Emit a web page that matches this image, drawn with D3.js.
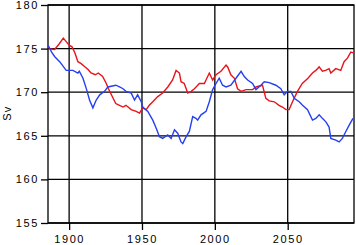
<!DOCTYPE html>
<html>
<head>
<meta charset="utf-8">
<script src="https://cdn.jsdelivr.net/npm/d3@7"></script>
<style>
  body { margin: 0; background: #fff; }
  text { font-family: "Liberation Sans", Arial, sans-serif; }
</style>
</head>
<body>
<div id="chart"></div>
<script>
// values
const redYears = [1886, 1890, 1893, 1896, 1898, 1900, 1902, 1904, 1906, 1908, 1911, 1913, 1915, 1918, 1920, 1923, 1925.5, 1927, 1929, 1932, 1934.6, 1937, 1939, 1942.6, 1946, 1948.3, 1950.5, 1952.9, 1955, 1957.4, 1960.8, 1964.2, 1967.7, 1971, 1973.4, 1975.7, 1976.8, 1979, 1981.4, 1983.7, 1986, 1989.4, 1992.8, 1996.2, 1998.5, 2000.8, 2004.2, 2007.7, 2008.8, 2011, 2013.4, 2015.6, 2018, 2021.4, 2025.9, 2028.2, 2032.7, 2035, 2037.3, 2040.8, 2044, 2046.4, 2048.8, 2051, 2053.3, 2056.7, 2060, 2063.9, 2067, 2069.3, 2071.6, 2073.8, 2076, 2078.4, 2079.6, 2083, 2086.4, 2088.7, 2091, 2093.3, 2095];
const redValues = [175.0, 174.9, 175.5, 176.2, 175.8, 175.4, 175.2, 174.5, 173.5, 173.3, 172.9, 172.6, 172.2, 172.0, 172.2, 171.8, 171.0, 170.4, 169.7, 168.7, 168.5, 168.3, 168.5, 168.0, 167.8, 167.6, 168.2, 168.0, 168.5, 168.9, 169.5, 169.9, 170.6, 171.4, 172.5, 172.2, 171.2, 171.0, 169.9, 170.1, 170.4, 171.0, 171.0, 172.2, 171.4, 172.0, 172.4, 173.1, 172.9, 172.0, 171.6, 170.4, 170.1, 170.3, 170.3, 170.6, 170.8, 169.3, 169.0, 168.9, 168.5, 168.3, 168.0, 168.0, 168.9, 170.1, 171.0, 171.6, 172.2, 172.5, 172.9, 172.4, 172.5, 172.7, 172.2, 172.7, 172.5, 173.5, 173.9, 174.6, 174.5];

const blueYears = [1885.5, 1888, 1890, 1893.5, 1898, 1902.6, 1906, 1907, 1909.5, 1912, 1914, 1916.3, 1918.6, 1921, 1924.3, 1926.6, 1932, 1934.6, 1937, 1939, 1942.6, 1944.9, 1947, 1949.5, 1950.5, 1954, 1957.4, 1959.7, 1962, 1964.2, 1967.7, 1970, 1972.3, 1974.5, 1976.8, 1978, 1980.3, 1982.5, 1984.8, 1987, 1988.2, 1990.5, 1994, 1996.2, 1998.5, 2000.8, 2003, 2005.3, 2007.7, 2011, 2014.5, 2018, 2020.2, 2022.5, 2025.9, 2028.2, 2031.6, 2033.9, 2037.3, 2041.9, 2045.3, 2047.6, 2049.9, 2052.2, 2054.5, 2057.9, 2060.2, 2063.6, 2067, 2069.3, 2071.6, 2073.8, 2076.2, 2078.4, 2079.6, 2083, 2085.3, 2087.5, 2089.9, 2092.1, 2094.8];
const blueValues = [175.4, 174.6, 174.1, 173.5, 172.5, 172.5, 172.2, 172.4, 171.6, 170.3, 169.1, 168.2, 169.1, 169.7, 170.1, 170.6, 170.8, 170.6, 170.4, 170.1, 169.9, 169.1, 169.7, 168.9, 168.3, 167.8, 166.8, 165.9, 164.9, 164.7, 165.1, 164.7, 165.7, 165.3, 164.3, 164.1, 164.9, 165.5, 167.2, 167.0, 166.8, 167.4, 167.8, 168.9, 170.3, 171.0, 171.6, 170.8, 170.6, 170.8, 171.6, 172.4, 171.8, 171.4, 171.0, 170.3, 170.8, 171.2, 171.1, 170.8, 170.4, 169.7, 170.1, 170.1, 169.3, 168.9, 168.5, 168.0, 166.8, 167.0, 167.4, 167.0, 166.6, 166.0, 164.7, 164.5, 164.3, 164.7, 165.5, 166.2, 167.0];

const xTicks = [1900, 1950, 2000, 2050];
const yTicks = [155, 160, 165, 170, 175, 180];

const W = 356, H = 245;
const margin = {left: 48, right: 2, top: 5, bottom: 22};
const width = W - margin.left - margin.right;
const height = H - margin.top - margin.bottom;

const svg = d3.select("#chart").append("svg")
    .attr("width", W).attr("height", H)
    .append("g")
    .attr("transform", `translate(${margin.left},${margin.top})`);

const x = d3.scaleLinear().domain([1885.5, 2095.5]).range([0, width]);
const y = d3.scaleLinear().domain([155, 180]).range([height, 0]);

// grid lines
svg.append("g").selectAll("line").data(yTicks).join("line")
    .attr("x1", 0).attr("x2", width)
    .attr("y1", d => y(d)).attr("y2", d => y(d))
    .attr("stroke", "#000").attr("stroke-width", 1.3);
svg.append("g").selectAll("line").data(xTicks).join("line")
    .attr("x1", d => x(d)).attr("x2", d => x(d))
    .attr("y1", 0).attr("y2", height)
    .attr("stroke", "#000").attr("stroke-width", 1.3);

// border
svg.append("rect").attr("width", width).attr("height", height)
    .attr("fill", "none").attr("stroke", "#000").attr("stroke-width", 1.3);

const xAxis = svg.append("g")
    .attr("transform", `translate(0,${height})`)
    .call(d3.axisBottom(x).tickValues(xTicks).tickFormat(d3.format("d")).tickSize(7).tickPadding(5));
const yAxis = svg.append("g")
    .call(d3.axisLeft(y).tickValues(yTicks).tickSize(7).tickPadding(2));

[xAxis, yAxis].forEach(a => {
    a.select(".domain").remove();
    a.selectAll("line").attr("stroke-width", 1.3);
    a.selectAll("text")
        .attr("font-family", "Liberation Sans, Arial, sans-serif")
        .attr("font-size", 11).attr("letter-spacing", 1.6).attr("fill", "#000");
});

svg.append("text")
    .attr("transform", `translate(${-37},${y(167.6)}) rotate(-90)`)
    .attr("text-anchor", "middle")
    .attr("font-size", 11).attr("letter-spacing", 1.2)
    .text("Sv");

const line = d3.line().x(d => x(d[0])).y(d => y(d[1]));

svg.append("path")
    .datum(d3.zip(redYears, redValues))
    .attr("fill", "none").attr("stroke", "#e8141c").attr("stroke-width", 1.4)
    .attr("d", line);

svg.append("path")
    .datum(d3.zip(blueYears, blueValues))
    .attr("fill", "none").attr("stroke", "#2440f0").attr("stroke-width", 1.4)
    .attr("d", line);
</script>
</body>
</html>
